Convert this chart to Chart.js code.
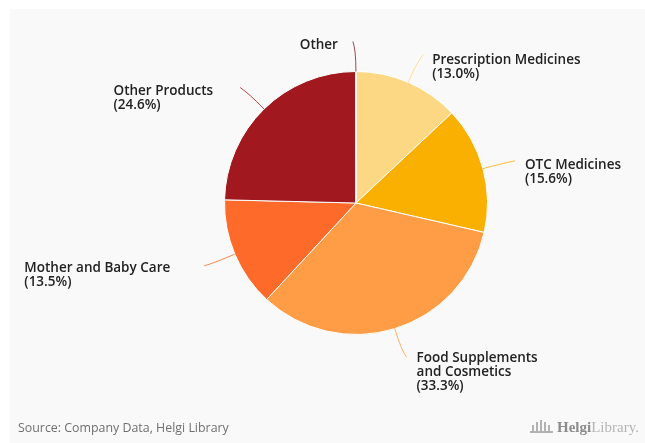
<!DOCTYPE html>
<html>
<head>
<meta charset="utf-8">
<script src="https://cdn.jsdelivr.net/npm/chart.js@4/dist/chart.umd.min.js"></script>
<style>
  html, body { margin: 0; padding: 0; background: #ffffff; }
  #wrap { position: relative; width: 645px; height: 443px; }
</style>
</head>
<body>
<div id="wrap"><canvas id="pie" width="645" height="443"></canvas></div>
<script>
// sales structure by segment, % of total
var segments = [
    'Prescription Medicines',
    'OTC Medicines',
    'Food Supplements and Cosmetics',
    'Mother and Baby Care',
    'Other Products',
    'Other'
];
var shares = [13.0, 15.6, 33.3, 13.5, 24.6, 0.02];
// text shown next to each slice (Other has no percentage)
var labelLines = [
    ['Prescription Medicines', '(13.0%)'],
    ['OTC Medicines', '(15.6%)'],
    ['Food Supplements', 'and Cosmetics', '(33.3%)'],
    ['Mother and Baby Care', '(13.5%)'],
    ['Other Products', '(24.6%)'],
    ['Other']
];
var sliceColors = ['#fdd884', '#f9b000', '#fe9d45', '#fe6a29', '#a1181f', '#7b2232'];

// where each label sits relative to the end of its leader line
var labelSide = [
    { side: 'right', gap: 9, dy: 5 },
    { side: 'right', gap: 10, dy: 4 },
    { side: 'right', gap: 10, dy: 1 },
    { side: 'left', gap: 34, dy: 2 },
    { side: 'left', gap: 27, dy: 4 },
    { side: 'left', gap: 15, dy: 4 }
];

var FONT = '"Open Sans", "DejaVu Sans", sans-serif';

var panelPlugin = {
    id: 'panel',
    beforeDraw: function(chart) {
        var ctx = chart.ctx;
        ctx.save();
        ctx.fillStyle = '#ffffff';
        ctx.fillRect(0, 0, chart.width, chart.height);
        ctx.fillStyle = '#f9f9f9';
        ctx.fillRect(10, 9, chart.width - 10, chart.height - 9);
        ctx.restore();
    }
};

var leaderPlugin = {
    id: 'leaders',
    afterDraw: function(chart) {
        var ctx = chart.ctx;
        var arcs = chart.getDatasetMeta(0).data;
        ctx.save();
        arcs.forEach(function(arc, i) {
            var p = arc.getProps(['x', 'y', 'startAngle', 'endAngle', 'outerRadius'], true);
            var mid = (p.startAngle + p.endAngle) / 2;
            var cos = Math.cos(mid), sin = Math.sin(mid);
            var r = p.outerRadius;
            var sx = p.x + r * cos, sy = p.y + r * sin;
            var cx = p.x + (r + 22) * cos, cy = p.y + (r + 22) * sin;
            var lay = labelSide[i];
            var dir = lay.side === 'right' ? 1 : -1;
            var ex = p.x + (r + 30) * cos + dir * 3, ey = p.y + (r + 30) * sin;

            ctx.beginPath();
            ctx.moveTo(sx, sy);
            ctx.quadraticCurveTo(cx, cy, ex, ey);
            ctx.strokeStyle = sliceColors[i];
            ctx.globalAlpha = 0.8;
            ctx.lineWidth = 1;
            ctx.stroke();
            ctx.globalAlpha = 1;

            ctx.font = '600 13.5px ' + FONT;
            ctx.fillStyle = '#222222';
            ctx.textBaseline = 'middle';
            ctx.textAlign = 'left';
            var lines = labelLines[i];
            var boxW = 0;
            lines.forEach(function(t) { boxW = Math.max(boxW, ctx.measureText(t).width); });
            var left = lay.side === 'right' ? ex + lay.gap : ex - lay.gap - boxW;
            if (i === 5) {
                ctx.textAlign = 'right';
                left = ex - lay.gap;
            }
            lines.forEach(function(t, k) {
                ctx.fillText(t, left, ey + lay.dy + k * 14);
            });
        });
        ctx.restore();
    }
};

var footerPlugin = {
    id: 'footer',
    afterDraw: function(chart) {
        var ctx = chart.ctx;
        ctx.save();
        ctx.font = '12.4px ' + FONT;
        ctx.fillStyle = '#6f6f6f';
        ctx.textBaseline = 'middle';
        ctx.fillText('Source: Company Data, Helgi Library', 18, 428);

        // logo mark: little columns on a base
        ctx.strokeStyle = '#9a9a9a';
        ctx.lineWidth = 1.5;
        var bx = 533;
        [0, 4, 8, 12, 16].forEach(function(o, k) {
            var h = [6, 9, 11, 9, 6][k];
            ctx.beginPath();
            ctx.moveTo(bx + o, 431);
            ctx.lineTo(bx + o, 431 - h);
            ctx.stroke();
        });
        ctx.beginPath();
        ctx.moveTo(bx - 3, 432);
        ctx.lineTo(bx + 20, 432);
        ctx.stroke();

        ctx.font = 'bold 15px "Liberation Serif", "DejaVu Serif", serif';
        ctx.fillStyle = '#8c8c8c';
        ctx.fillText('Helgi', 557, 428);
        var w = ctx.measureText('Helgi').width;
        ctx.font = '15px "Liberation Serif", "DejaVu Serif", serif';
        ctx.fillStyle = '#b5b5b5';
        ctx.fillText('Library.', 557 + w, 428);
        ctx.restore();
    }
};

new Chart(document.getElementById('pie').getContext('2d'), {
    type: 'pie',
    data: {
        labels: segments,
        datasets: [{
            data: shares,
            backgroundColor: sliceColors,
            borderColor: '#ffffff',
            borderWidth: 1
        }]
    },
    options: {
        responsive: false,
        animation: false,
        devicePixelRatio: 1,
        layout: { padding: { left: 156, right: 89, top: 71, bottom: 108 } },
        plugins: {
            legend: { display: false },
            tooltip: { enabled: false }
        }
    },
    plugins: [panelPlugin, leaderPlugin, footerPlugin]
});
</script>
</body>
</html>
